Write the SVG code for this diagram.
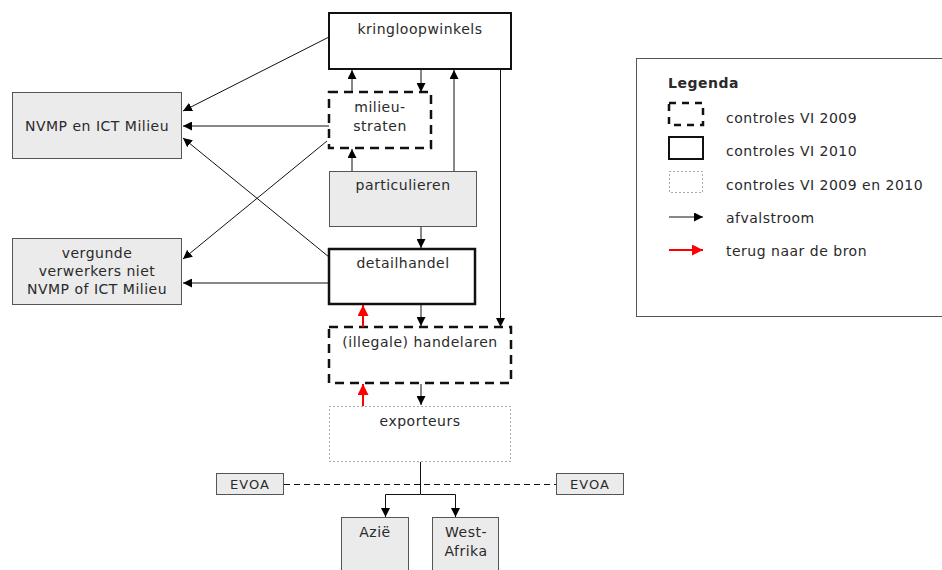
<svg xmlns="http://www.w3.org/2000/svg" width="942" height="570" viewBox="0 0 942 570">
<defs>
<marker id="ah" viewBox="0 0 10 10" refX="10" refY="5" markerWidth="9" markerHeight="9" markerUnits="userSpaceOnUse" orient="auto"><path d="M0,0 L10,5 L0,10 z" fill="#000"/></marker>
<marker id="ahr" viewBox="0 0 10 10" refX="10" refY="5" markerWidth="11" markerHeight="11" markerUnits="userSpaceOnUse" orient="auto"><path d="M0,0 L10,5 L0,10 z" fill="#f00"/></marker>
</defs>
<style>
text{font-family:"DejaVu Sans",Verdana,sans-serif;font-size:14px;letter-spacing:0.5px;fill:#2a2a2a;text-anchor:middle}
.lt{text-anchor:start}
.ev{font-size:13px;letter-spacing:1px}
.gray{fill:#ebebeb;stroke:#555;stroke-width:1}
.solid{fill:#fff;stroke:#111;stroke-width:2}
.thick{fill:#fff;stroke:#111;stroke-width:2.5}
.dash{fill:#fff;stroke:#111;stroke-width:2.5;stroke-dasharray:9,6}
.dot{fill:#fff;stroke:#555;stroke-width:1;stroke-dasharray:1,3}
.c{fill:none;stroke:#111;stroke-width:1;marker-end:url(#ah)}
.r{fill:none;stroke:#f00;stroke-width:2;marker-end:url(#ahr)}
.pl{fill:none;stroke:#111;stroke-width:1}
</style>
<rect width="942" height="570" fill="#fff"/>
<g id="kringloopwinkels"><rect class="solid" x="329" y="13" width="182" height="56"/><text x="420" y="34">kringloopwinkels</text></g>
<g id="milieustraten"><rect class="dash" x="329" y="92" width="102" height="56"/><text x="380" y="112">milieu-</text><text x="380" y="131">straten</text></g>
<g id="particulieren"><rect class="gray" x="329.5" y="171.5" width="147" height="55"/><text x="403" y="190">particulieren</text></g>
<g id="nvmp"><rect class="gray" x="12.5" y="92.5" width="169" height="66"/><text x="97" y="131">NVMP en ICT Milieu</text></g>
<g id="vergunde"><rect class="gray" x="12.5" y="238.5" width="169" height="66"/><text x="97" y="258">vergunde</text><text x="97" y="276">verwerkers niet</text><text x="97" y="294">NVMP of ICT Milieu</text></g>
<g id="detailhandel"><rect class="thick" x="329" y="249" width="146" height="55"/><text x="403" y="268">detailhandel</text></g>
<g id="handelaren"><rect class="dash" x="329" y="327" width="182" height="56"/><text x="420" y="347">(illegale) handelaren</text></g>
<g id="exporteurs"><rect class="dot" x="329.5" y="406.5" width="181" height="55"/><text x="420" y="426">exporteurs</text></g>
<g id="evoa-left"><rect class="gray" x="216.5" y="473.5" width="67" height="21"/><text class="ev" x="250" y="489">EVOA</text></g>
<g id="evoa-right"><rect class="gray" x="556.5" y="473.5" width="67" height="21"/><text class="ev" x="590" y="489">EVOA</text></g>
<g id="azie"><rect class="gray" x="341.5" y="517.5" width="67" height="60"/><text x="375" y="537">Azië</text></g>
<g id="westafrika"><rect class="gray" x="432.5" y="517.5" width="66" height="60"/><text x="466" y="537">West-</text><text x="466" y="556">Afrika</text></g>
<g id="connectors">
<line class="c" x1="329" y1="37" x2="183" y2="111"/>
<line class="c" x1="329" y1="126" x2="183" y2="126"/>
<line class="c" x1="327" y1="141" x2="183" y2="259"/>
<line class="c" x1="329" y1="257" x2="183" y2="138"/>
<line class="c" x1="329" y1="283" x2="183" y2="283"/>
<line class="c" x1="352" y1="92" x2="352" y2="70"/>
<line class="c" x1="421" y1="70" x2="421" y2="92"/>
<line class="c" x1="352" y1="171" x2="352" y2="149"/>
<line class="c" x1="454" y1="171" x2="454" y2="70"/>
<line class="c" x1="500.5" y1="69" x2="500.5" y2="327"/>
<line class="c" x1="421" y1="227" x2="421" y2="248"/>
<line class="c" x1="421" y1="305" x2="421" y2="326"/>
<line class="c" x1="421" y1="384" x2="421" y2="405"/>
<line class="r" x1="363" y1="327" x2="363" y2="305"/>
<line class="r" x1="363" y1="406" x2="363" y2="384"/>
<line class="pl" x1="420.5" y1="462" x2="420.5" y2="494"/>
<path class="c" d="M420.5,494.5 H385.5 V517"/>
<path class="c" d="M420.5,494.5 H455.5 V517"/>
<line x1="284" y1="484.5" x2="556" y2="484.5" stroke="#111" stroke-width="1" stroke-dasharray="6,4"/>
</g>
<g id="legend">
<rect x="636.5" y="58.5" width="320" height="258" fill="#fff" stroke="#555" stroke-width="1"/>
<text class="lt" x="668" y="88" style="font-weight:bold">Legenda</text>
<rect class="dash" x="669" y="103" width="34" height="22" style="stroke-dasharray:7,6"/>
<text class="lt" x="726" y="123">controles VI 2009</text>
<rect class="solid" x="669" y="137" width="34" height="22"/>
<text class="lt" x="726" y="156">controles VI 2010</text>
<rect class="dot" x="669.5" y="171.5" width="33" height="21"/>
<text class="lt" x="726" y="190">controles VI 2009 en 2010</text>
<line class="c" x1="669" y1="217" x2="703" y2="217"/>
<text class="lt" x="726" y="223">afvalstroom</text>
<line class="r" x1="669" y1="250" x2="703" y2="250"/>
<text class="lt" x="726" y="256">terug naar de bron</text>
</g>
</svg>
